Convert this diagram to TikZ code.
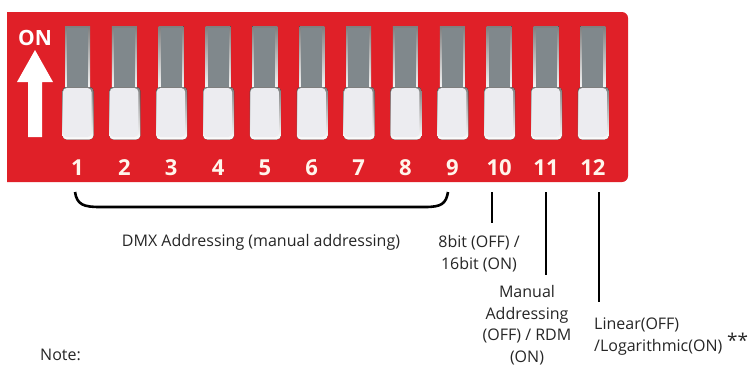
\documentclass[tikz,border=0pt]{standalone}
\usepackage{fontspec}
\setmainfont{Open Sans}
\begin{document}
\begin{tikzpicture}[x=1pt,y=-1pt,
  lbl/.style={font=\fontsize{16}{21.7}\selectfont, text=black!85, inner sep=0pt, align=center},
  num/.style={font=\fontsize{22}{23}\selectfont\bfseries, text=white!92!orange, inner sep=0pt},
  lead/.style={line width=2.6pt, black}]
\definecolor{board}{RGB}{224,32,40}
\definecolor{slotc}{RGB}{128,136,140}
\definecolor{knob}{RGB}{236,236,240}
\definecolor{shade}{RGB}{105,22,28}
\useasboundingbox (0,0) rectangle (750,365);
\fill[white] (0,0) rectangle (750,365);
% board
\fill[board] (7,12) -- (622,12) [rounded corners=6pt] -- (628,12) -- (628,182) [sharp corners] -- (7,182) -- cycle;
% ON arrow
\node[font=\fontsize{21}{22}\selectfont\bfseries, text=white, inner sep=0pt] (on) at (35,38) {ON};
\fill[white] (35,50) -- (53,82) -- (42,82) -- (42,137) -- (28,137) -- (28,82) -- (17,82) -- cycle;
% switches
\foreach \i in {1,...,12}{
  \pgfmathsetmacro{\cx}{77.5+46.85*(\i-1)}
  \fill[shade] (\cx-12.5,26) rectangle (\cx+12.5,92);
  \fill[slotc] (\cx-10.5,28) rectangle (\cx+10.5,90);
  \fill[shade,rounded corners=4pt] (\cx-15,87) rectangle (\cx+16,139.5);
  \fill[knob,rounded corners=4pt] (\cx-14.5,88) rectangle (\cx+14,137);
  \node[num] (n\i) at (\cx,168) {\i};
  \coordinate (c\i) at (\cx,192);
}
% brace for 1-9
\coordinate (bl) at (75,192);
\coordinate (br) at (448,192);
\draw[lead] (bl) .. controls (77,205) and (84,207) .. (100,207) -- (425,207) .. controls (441,207) and (446,204) .. (br);
% leads
\coordinate (e10) at (492,223);
\coordinate (e11) at (546,275);
\coordinate (e12) at (599,302);
\draw[lead] (492,192) -- (e10);
\draw[lead] (546,192) -- (e11);
\draw[lead] (599,192) -- (e12);
% labels
\node[lbl] (dmx) at (261,242) {DMX Addressing (manual addressing)};
\node[lbl, anchor=north] (l10) at (479,235) {8bit (OFF) /\\16bit (ON)};
\node[lbl, anchor=north] (l11) at (527,285) {Manual\\Addressing\\(OFF) / RDM\\(ON)};
\node[lbl, anchor=north west, align=left] (l12) at (594,318) {Linear(OFF)\\/Logarithmic(ON)};
\node[lbl, font=\fontsize{19}{20}\selectfont, anchor=west] (ast) at (727,340) {**};
\node[lbl, anchor=base west] (note) at (40,360) {Note:};
\end{tikzpicture}
\end{document}
